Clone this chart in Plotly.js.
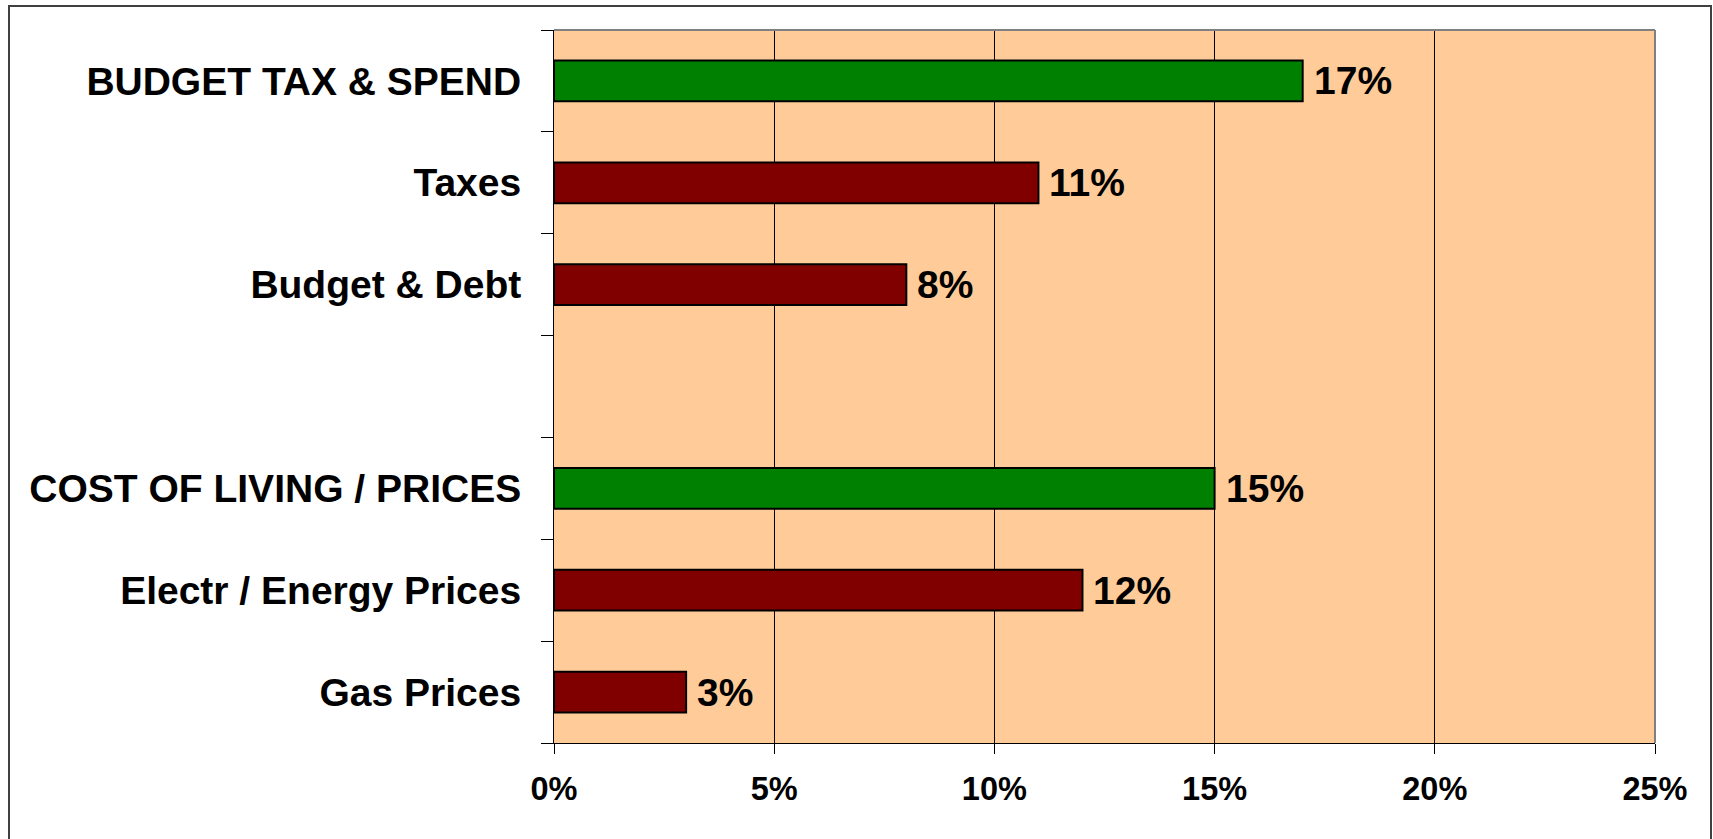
<!DOCTYPE html>
<html>
<head>
<meta charset="utf-8">
<script src="https://cdn.plot.ly/plotly-3.0.1.min.js"></script>
<style>
  html, body { margin: 0; padding: 0; background: #ffffff; }
  #chart { width: 1713px; height: 839px; position: absolute; left: 0; top: 0; }
  #frame { position: absolute; left: 8px; top: 5px; width: 1700px; height: 850px;
           border: 2px solid #404040; border-bottom: none; pointer-events: none; }
</style>
</head>
<body>
<div id="chart"></div>
<div id="frame"></div>
<script>
const categories = ["BUDGET TAX & SPEND", "Taxes", "Budget & Debt", " ",
                    "COST OF LIVING / PRICES", "Electr / Energy Prices", "Gas Prices"];
const values = [17, 11, 8, null, 15, 12, 3];
const isHeading = [true, false, false, false, true, false, false];
const xTickValues = [0, 5, 10, 15, 20, 25];
const xTickLabels = ["0%", "5%", "10%", "15%", "20%", "25%"];

const FONT = "Liberation Sans, Arial, sans-serif";
const barColors = isHeading.map(h => h ? "#008000" : "#800000");

const trace = {
  type: "bar",
  orientation: "h",
  y: categories,
  x: values,
  width: 0.4,
  marker: { color: barColors, line: { color: "#000000", width: 2 } },
  hoverinfo: "skip"
};

const annotations = [];
categories.forEach((c, i) => {
  if (values[i] === null) return;
  annotations.push({
    x: values[i], y: c, xref: "x", yref: "y",
    text: "<b>" + values[i] + "%</b>",
    showarrow: false, xanchor: "left", yanchor: "middle", xshift: 9,
    font: { family: FONT, size: 39, color: "#000000" }
  });
});

const layout = {
  width: 1713, height: 839,
  margin: { l: 554, r: 58, t: 30, b: 96 },
  paper_bgcolor: "rgba(0,0,0,0)",
  plot_bgcolor: "#FFCC99",
  showlegend: false,
  xaxis: {
    range: [0, 25],
    tickvals: xTickValues,
    ticktext: xTickLabels.map(t => "<b>" + t + "</b>"),
    ticks: "outside", ticklen: 10, tickcolor: "#000000", tickwidth: 1,
    showgrid: true, gridcolor: "#000000", gridwidth: 1,
    zeroline: false,
    showline: true, linecolor: "#000000", linewidth: 1,
    tickfont: { family: FONT, size: 32.5, color: "#000000" },
    ticklabelstandoff: 7,
    fixedrange: true
  },
  yaxis: {
    type: "category",
    categoryorder: "array", categoryarray: categories,
    autorange: "reversed",
    tickson: "boundaries",
    ticks: "outside", ticklen: 12, tickcolor: "#000000", tickwidth: 1,
    showgrid: false, zeroline: false,
    showline: true, linecolor: "#000000", linewidth: 1,
    ticktext: categories.map(c => "<b>" + c + "</b>"),
    tickvals: categories,
    tickfont: { family: FONT, size: 39, color: "#000000" },
    ticklabelstandoff: 24,
    fixedrange: true
  },
  shapes: [
    { type: "line", xref: "paper", yref: "paper", x0: 0, x1: 1, y0: 1, y1: 1,
      line: { color: "#808080", width: 2 } },
    { type: "line", xref: "paper", yref: "paper", x0: 1, x1: 1, y0: 0, y1: 1,
      line: { color: "#808080", width: 2 } }
  ],
  annotations: annotations
};

Plotly.newPlot("chart", [trace], layout, { displayModeBar: false, staticPlot: true });
</script>
</body>
</html>
